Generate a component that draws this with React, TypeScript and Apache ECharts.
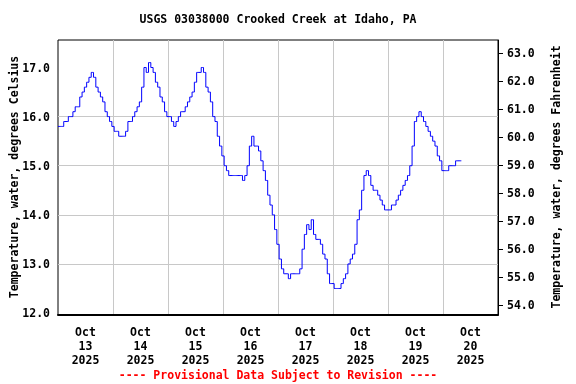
import React, { useEffect, useRef } from "react";
import * as echarts from "echarts";

const TITLE = "USGS 03038000 Crooked Creek at Idaho, PA";
const FOOTER = "---- Provisional Data Subject to Revision ----";
const LEFT_NAME = "Temperature, water, degrees Celsius";
const RIGHT_NAME = "Temperature, water, degrees Fahrenheit";

const dayLabels = [
  "Oct\n13\n2025",
  "Oct\n14\n2025",
  "Oct\n15\n2025",
  "Oct\n16\n2025",
  "Oct\n17\n2025",
  "Oct\n18\n2025",
  "Oct\n19\n2025",
  "Oct\n20\n2025",
];

const celsiusTicks = [12, 13, 14, 15, 16, 17];
const fahrenheitTicks = [54, 55, 56, 57, 58, 59, 60, 61, 62, 63];

// hourly readings starting Oct 13 2025 00:00 (hours since start = index)
const oct13 = [15.8, 15.8, 15.8, 15.9, 15.9, 16.0, 16.0, 16.1, 16.2, 16.2, 16.4, 16.5, 16.6, 16.7, 16.8, 16.9, 16.8, 16.6, 16.5, 16.4, 16.3, 16.1, 16.0, 15.9];
const oct14 = [15.8, 15.7, 15.7, 15.6, 15.6, 15.6, 15.7, 15.9, 15.9, 16.0, 16.1, 16.2, 16.3, 16.6, 17.0, 16.9, 17.1, 17.0, 16.9, 16.7, 16.6, 16.4, 16.3, 16.1];
const oct15 = [16.0, 16.0, 15.9, 15.8, 15.9, 16.0, 16.1, 16.1, 16.2, 16.3, 16.4, 16.5, 16.7, 16.9, 16.9, 17.0, 16.9, 16.6, 16.5, 16.3, 16.0, 15.9, 15.6, 15.4];
const oct16 = [15.2, 15.0, 14.9, 14.8, 14.8, 14.8, 14.8, 14.8, 14.8, 14.7, 14.8, 15.0, 15.4, 15.6, 15.4, 15.4, 15.3, 15.1, 14.9, 14.7, 14.4, 14.2, 14.0, 13.7];
const oct17 = [13.4, 13.1, 12.9, 12.8, 12.8, 12.7, 12.8, 12.8, 12.8, 12.8, 12.9, 13.3, 13.6, 13.8, 13.7, 13.9, 13.6, 13.5, 13.5, 13.4, 13.2, 13.1, 12.8, 12.6];
const oct18 = [12.6, 12.5, 12.5, 12.5, 12.6, 12.7, 12.8, 13.0, 13.1, 13.2, 13.4, 13.9, 14.1, 14.5, 14.8, 14.9, 14.8, 14.6, 14.5, 14.5, 14.4, 14.3, 14.2, 14.1];
const oct19 = [14.1, 14.1, 14.2, 14.2, 14.3, 14.4, 14.5, 14.6, 14.7, 14.8, 15.0, 15.4, 15.9, 16.0, 16.1, 16.0, 15.9, 15.8, 15.7, 15.6, 15.5, 15.4, 15.2, 15.1];
const oct20 = [14.9, 14.9, 14.9, 15.0, 15.0, 15.0, 15.1, 15.1, 15.1];

const tempC = [...oct13, ...oct14, ...oct15, ...oct16, ...oct17, ...oct18, ...oct19, ...oct20];

const FONT = "'DejaVu Sans Mono', monospace";
const GRID_COLOR = "#c8c8c8";

export default function App() {
  const ref = useRef<HTMLDivElement>(null);
  useEffect(() => {
    const chart = echarts.init(ref.current!, null, { renderer: "svg" });
    const labelStyle = {
      fontFamily: FONT,
      fontWeight: "bold" as const,
      fontSize: 11.5,
      color: "#000",
    };
    const textStyle = (text: string, fill = "#000") => ({
      text,
      fontFamily: FONT,
      fontWeight: "bold",
      fontSize: 11.5,
      fill,
      align: "center",
      verticalAlign: "middle",
    });
    chart.setOption({
      animation: false,
      grid: {
        left: 58,
        right: 78,
        top: 40,
        bottom: 69,
        containLabel: false,
        outerBoundsMode: "none",
        show: true,
        borderColor: "#000",
        borderWidth: 1,
        backgroundColor: "transparent",
      },
      xAxis: [
        {
          type: "value",
          min: 0,
          max: 192,
          interval: 24,
          axisLabel: { show: false },
          axisTick: { show: false },
          axisLine: { show: true, onZero: false, lineStyle: { color: "#000", width: 2 } },
          splitLine: {
            show: true,
            showMinLine: false,
            showMaxLine: false,
            lineStyle: { color: GRID_COLOR, width: 1 },
          },
        },
        {
          type: "category",
          data: dayLabels,
          boundaryGap: true,
          position: "bottom",
          axisLine: { show: false },
          axisTick: { show: false },
          splitLine: { show: false },
          axisLabel: { ...labelStyle, interval: 0, margin: 10, lineHeight: 14 },
        },
      ],
      yAxis: [
        {
          type: "value",
          min: 11.96,
          max: 17.56,
          position: "left",
          axisLine: { show: false },
          axisTick: { show: false, customValues: celsiusTicks },
          axisLabel: {
            ...labelStyle,
            margin: 8,
            customValues: celsiusTicks,
            formatter: (v: number) => v.toFixed(1),
          },
          splitLine: {
            show: true,
            showMinLine: false,
            showMaxLine: false,
            lineStyle: { color: GRID_COLOR, width: 1 },
          },
        },
        {
          type: "value",
          min: 53.66,
          max: 63.47,
          position: "right",
          axisLine: { show: true, lineStyle: { color: "#000", width: 1 } },
          axisTick: {
            show: true,
            inside: false,
            length: 5,
            customValues: fahrenheitTicks,
            lineStyle: { color: "#000" },
          },
          axisLabel: {
            ...labelStyle,
            margin: 9,
            customValues: fahrenheitTicks,
            formatter: (v: number) => v.toFixed(1),
          },
          splitLine: { show: false },
        },
      ],
      series: [
        {
          type: "line",
          xAxisIndex: 0,
          yAxisIndex: 0,
          data: tempC.map((v, i) => [i, v]),
          showSymbol: false,
          symbol: "none",
          step: "middle",
          silent: true,
          lineStyle: { color: "#0000ff", width: 1 },
        },
      ],
      graphic: [
        { type: "text", x: 278, y: 19, style: textStyle(TITLE) },
        { type: "text", x: 278, y: 375, style: textStyle(FOOTER, "#ff0000") },
        { type: "text", x: 14, y: 177, rotation: Math.PI / 2, style: textStyle(LEFT_NAME) },
        { type: "text", x: 556, y: 177, rotation: Math.PI / 2, style: textStyle(RIGHT_NAME) },
      ],
    });
    return () => chart.dispose();
  }, []);
  return (
    <div
      ref={ref}
      style={{ position: "fixed", left: 0, top: 0, width: 576, height: 384 }}
    />
  );
}
